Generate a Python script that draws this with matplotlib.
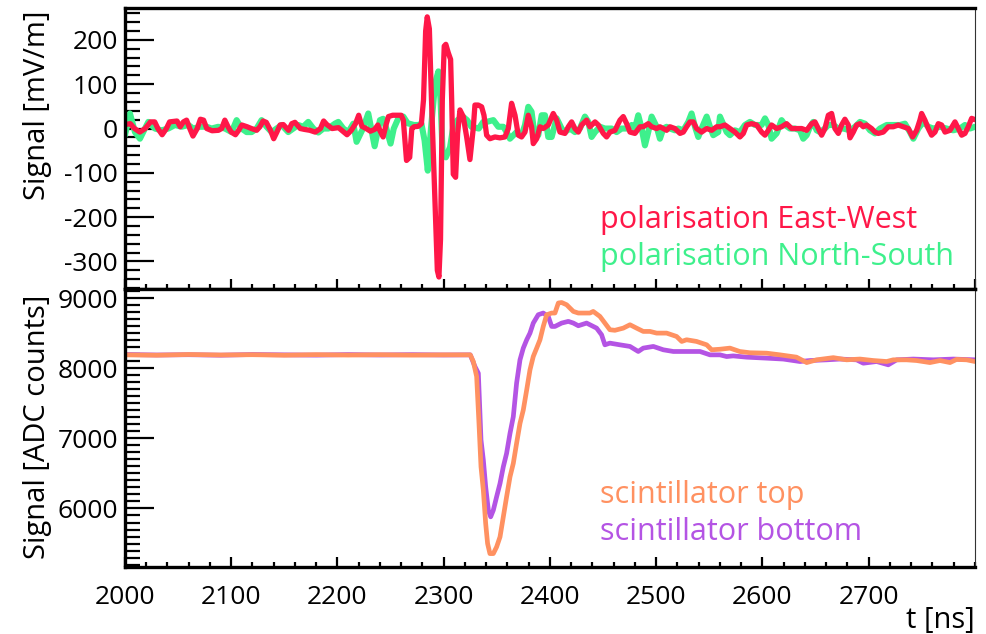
import matplotlib
matplotlib.use("Agg")
import matplotlib.pyplot as plt
from matplotlib.ticker import MultipleLocator

plt.rcParams['font.family'] = ['Open Sans', 'DejaVu Sans']
plt.rcParams['axes.unicode_minus'] = False

# radio antenna, polarisation East-West (t [ns], signal [mV/m])
ew_points = [
    (2000, 9), (2005, 11), (2009, 0), (2014, -8), (2019, 0), (2024, 15), (2028, 15),
    (2031, 0), (2035, -14), (2039, 0), (2042, 15), (2049, 17), (2052, 4), (2055, 15),
    (2058, 19), (2061, 0), (2064, -17), (2068, 0), (2071, 21), (2074, 19), (2077, 0),
    (2082, -5), (2088, -4), (2091, 0), (2094, 19), (2097, 4), (2100, -8), (2104, -14),
    (2107, -4), (2110, 8), (2115, 4), (2119, 0), (2124, -4), (2127, 4), (2130, 17),
    (2133, 14), (2137, -4), (2140, -23), (2143, -8), (2146, 8), (2149, 9), (2154, -4),
    (2157, 11), (2160, 14), (2165, 0), (2169, -2), (2174, -4), (2179, -8), (2184, 0),
    (2187, 17), (2190, 9), (2195, 0), (2201, 2), (2206, -8), (2209, -14), (2213, -4),
    (2217, 11), (2220, 30), (2223, 5), (2227, 0), (2231, -6), (2235, -2), (2238, 8),
    (2240, -5), (2243, -19), (2246, 11), (2248, 27), (2252, 30), (2260, 30), (2262, 19),
    (2265, -72), (2268, -65), (2270, 0), (2272, 4), (2276, 5), (2279, 11), (2281, 65),
    (2283, 220), (2284.5, 252), (2286.5, 225), (2288.5, 65), (2291.8, -164),
    (2294, -320), (2295.5, -335), (2297, -250), (2298.7, 65), (2300.5, 186),
    (2302, 190), (2304.3, 171), (2306.5, 156), (2307.5, 65), (2309, -103),
    (2311.2, -110), (2313.1, -11), (2315.3, 42), (2318.4, 27), (2321.6, -19),
    (2324.7, -70), (2327.8, 0), (2329.4, 53), (2332.5, 53), (2335.7, 49), (2337.9, 30),
    (2340.4, -15), (2343.5, -23), (2348.2, -19), (2352.9, -21), (2357.6, -19),
    (2360.8, 0), (2363.9, 57), (2367.1, 30), (2370.2, -15), (2373.3, -19),
    (2376.5, -8), (2379.6, 30), (2382.7, 4), (2384.3, -34), (2387.5, -23),
    (2390.6, 4), (2393.7, 0), (2398.4, 8), (2403.1, 34), (2406.3, 19), (2409.4, -8),
    (2414.1, -11), (2417.3, 4), (2420.4, 15), (2423.5, 0), (2426.7, -8), (2429.8, 8),
    (2434.5, 19), (2437.6, 4), (2442.4, 15), (2445.5, 8), (2450.2, -11),
    (2453.3, -19), (2456.5, -8), (2461.2, -4), (2465.9, 19), (2469.0, 27),
    (2472.2, 11), (2475.3, -8), (2480.0, -11), (2484.7, 4), (2487.8, 4), (2492.5, 11),
    (2495.7, 4), (2500.4, 0), (2503.5, 4), (2506.7, 0), (2509.8, -4), (2513.0, 4),
    (2517.6, 0), (2522.4, -11), (2525.5, -8), (2528.6, 4), (2531.8, 15), (2534.9, 15),
    (2538.0, 0), (2542.7, -8), (2547.5, 0), (2552.2, -4), (2556.9, 4), (2560.0, 4),
    (2564.7, 8), (2569.4, 0), (2574.1, -8), (2578.8, -19), (2582.0, -11),
    (2585.1, 8), (2589.8, 11), (2594.5, 8), (2599.2, -8), (2602.4, -15),
    (2605.5, -4), (2608.6, 8), (2613.3, 0), (2618.0, 4), (2622.7, 11), (2627.5, 0),
    (2632.2, 0), (2636.9, 0), (2641.6, -4), (2646.3, 11), (2649.4, 15), (2652.5, 0),
    (2655.7, -15), (2658.8, 0), (2662.0, 30), (2665.1, 34), (2668.2, 0),
    (2671.4, -11), (2674.5, 8), (2677.6, 21), (2680.8, 8), (2682.4, -21),
    (2685.5, -8), (2688.6, 8), (2691.8, 11), (2694.9, 4), (2698.0, 8), (2702.7, 0),
    (2705.9, -8), (2709.0, -11), (2713.7, -8), (2718.4, 4), (2723.1, 4), (2727.8, 8),
    (2732.5, 4), (2737.3, 0), (2741.3, -19), (2745.1, -4), (2748.2, 19),
    (2749.8, 34), (2752.9, 19), (2756.1, 0), (2759.2, -15), (2762.4, -8),
    (2765.5, 11), (2768.6, 8), (2771.8, -8), (2776.5, -4), (2781.2, 15),
    (2784.3, 0), (2787.5, -15), (2790.6, -11), (2793.7, 4), (2796.9, 23), (2800, 20),
]

# radio antenna, polarisation North-South
ns_points = [
    (2000, -15), (2004.7, 34), (2009.4, -8), (2014.1, -23), (2018.8, 0), (2022.0, 15),
    (2028.2, 0), (2034.5, -4), (2040.8, 0), (2047.1, 8), (2053.3, 4), (2059.6, 8),
    (2064.3, 0), (2070.6, 4), (2076.9, 4), (2081.6, 0), (2087.8, 4), (2094.1, 0),
    (2100.4, -8), (2105.1, 19), (2109.8, 0), (2114.5, -8), (2119.2, -8), (2123.9, 0),
    (2128.6, 19), (2133.3, 4), (2138.0, -8), (2142.7, 0), (2147.5, 8), (2153.7, -8),
    (2158.4, 0), (2163.1, 8), (2167.8, 4), (2172.5, 15), (2177.3, 0), (2182.0, -9),
    (2186.7, 0), (2191.4, 0), (2197.6, 11), (2200.8, 15), (2205.5, 0), (2210.2, -8),
    (2214.9, 11), (2218, -30), (2224, 0), (2229, 34), (2235, -40), (2240, 19),
    (2243, 22), (2246, 0), (2250, -34), (2253, 0), (2258, 27), (2262, 27), (2266, 12),
    (2272, 8), (2276, 8), (2279, 11), (2282, -27), (2285, -95), (2288, 0), (2292, 103),
    (2295, 129), (2297, 65), (2299, -57), (2302, -65), (2306, -42), (2309, 4),
    (2313, 19), (2318, 27), (2322, 19), (2326, 4), (2333, 0), (2337.2, 15),
    (2340.4, 15), (2346.7, 19), (2351.4, 4), (2356.1, 4), (2359.2, -8), (2362.3, -23),
    (2368.6, -8), (2373.3, -15), (2376.5, 8), (2379.6, 49), (2382.7, 38),
    (2385.9, -23), (2389.0, -15), (2392.2, 30), (2395.3, 30), (2398.4, -19),
    (2401.6, -19), (2406.3, 23), (2411.0, 0), (2414.1, -8), (2418.8, 0), (2423.5, -8),
    (2428.2, 0), (2432.9, 27), (2436.1, 15), (2439.2, -19), (2442.4, -8), (2447.1, 4),
    (2451.8, 0), (2458.0, 0), (2462.7, -8), (2467.5, 0), (2472.2, 0), (2476.9, 8),
    (2480.0, 0), (2483.1, 30), (2486.3, 0), (2489.4, -38), (2492.5, -8), (2495.7, 27),
    (2500.4, 4), (2503.5, -23), (2506.7, 0), (2509.8, 4), (2513.0, 0), (2517.6, -4),
    (2520.8, 0), (2525.5, -4), (2530.2, 15), (2533.3, 34), (2536.5, 4), (2539.6, -19),
    (2542.7, 0), (2547.5, 27), (2550.6, 4), (2553.7, -15), (2558.4, -8), (2560, 27),
    (2566.3, -8), (2569.4, -15), (2574.1, -4), (2578.8, -8), (2583.5, 8), (2588.2, 15),
    (2592.9, 8), (2599.2, 8), (2602.4, 23), (2605.5, 8), (2608.6, -23), (2613.3, -11),
    (2618.0, 19), (2621.2, 8), (2625.9, 0), (2630.6, 0), (2635.3, -4), (2638.4, -23),
    (2641.6, -15), (2644.7, 4), (2647.8, 15), (2651.0, -4), (2654.1, -8), (2658.8, 0),
    (2662.0, 8), (2666.7, 8), (2671.4, 0), (2676.1, 0), (2682.4, -4), (2687.1, 4),
    (2691.8, 15), (2696.5, 11), (2701.2, -4), (2705.9, -11), (2710.6, 0),
    (2716.9, 8), (2723.1, 8), (2729.4, 8), (2734.1, 11), (2738.8, -8), (2742.0, -23),
    (2746.7, 0), (2751.4, 15), (2756.1, 4), (2760.8, 0), (2767.1, 4), (2773.3, 0),
    (2779.6, -4), (2785.9, 0), (2790.6, 8), (2795.3, 0), (2800, 4),
]

# scintillator top (t [ns], ADC counts)
sc_top_points = [
    (2000, 8190), (2030, 8185), (2060, 8195), (2090, 8188), (2120, 8192),
    (2150, 8185), (2180, 8193), (2210, 8187), (2240, 8192), (2270, 8186),
    (2300, 8190), (2325, 8190), (2327.9, 8094), (2331.0, 7881), (2333.2, 7214),
    (2335.1, 6595), (2337.3, 6261), (2339.5, 5786), (2341.3, 5500), (2343.5, 5357),
    (2346.7, 5357), (2349.8, 5452), (2353.0, 5595), (2356.1, 5881), (2359.2, 6167),
    (2362.4, 6452), (2365.5, 6643), (2368.6, 6929), (2371.8, 7214), (2374.9, 7404),
    (2378.1, 7690), (2381.2, 7976), (2384.3, 8167), (2387.5, 8286), (2390.6, 8404),
    (2393.7, 8595), (2396.9, 8761), (2401.6, 8786), (2404.7, 8786), (2407.9, 8929),
    (2411.0, 8936), (2415.7, 8904), (2418.8, 8857), (2422.0, 8809), (2426.7, 8786),
    (2431.4, 8786), (2437.6, 8786), (2440.7, 8809), (2447.0, 8738), (2451.7, 8643),
    (2456.4, 8548), (2461.1, 8540), (2469.0, 8571), (2475.3, 8619), (2481.5, 8571),
    (2487.8, 8524), (2494.1, 8524), (2500.4, 8500), (2509.8, 8500), (2519.2, 8452),
    (2524.0, 8381), (2528.6, 8405), (2538.0, 8381), (2547.5, 8333), (2552.2, 8262),
    (2560.0, 8270), (2569.4, 8286), (2578.6, 8238), (2588.1, 8220), (2603.9, 8214),
    (2616.5, 8190), (2632.0, 8157), (2641.6, 8080), (2651.0, 8119), (2666.7, 8150),
    (2679.2, 8119), (2691.8, 8130), (2704.3, 8109), (2716.9, 8095), (2723.1, 8119),
    (2735.7, 8119), (2745.1, 8109), (2757.6, 8080), (2767.1, 8109), (2776.5, 8080),
    (2782.7, 8125), (2792.2, 8119), (2800, 8095),
]

# scintillator bottom
sc_bottom_points = [
    (2000, 8195), (2030, 8188), (2060, 8192), (2090, 8185), (2120, 8195),
    (2150, 8190), (2180, 8186), (2210, 8194), (2240, 8188), (2270, 8193),
    (2300, 8188), (2325, 8190), (2329.4, 8023), (2332.6, 7928), (2335.1, 6976),
    (2337.3, 6690), (2339.5, 6309), (2342.0, 5976), (2344.2, 5881), (2346.7, 5976),
    (2349.8, 6167), (2353.0, 6357), (2356.1, 6595), (2359.2, 6786), (2362.4, 7071),
    (2365.5, 7309), (2368.6, 7786), (2371.8, 8119), (2374.9, 8286), (2378.1, 8404),
    (2381.2, 8500), (2384.3, 8643), (2389.0, 8762), (2393.7, 8786), (2398.4, 8738),
    (2401.6, 8595), (2404.7, 8595), (2411.0, 8643), (2417.3, 8667), (2422.0, 8643),
    (2426.7, 8605), (2434.5, 8643), (2443.9, 8571), (2448.6, 8476), (2451.7, 8333),
    (2456.4, 8357), (2465.8, 8333), (2475.3, 8310), (2483.1, 8238), (2487.8, 8286),
    (2497.3, 8310), (2506.7, 8262), (2516.1, 8238), (2528.6, 8238), (2541.2, 8238),
    (2550.6, 8190), (2560.0, 8190), (2566.3, 8166), (2572.5, 8175), (2585.1, 8157),
    (2603.9, 8143), (2619.6, 8130), (2635.3, 8095), (2644.7, 8109), (2660.4, 8119),
    (2673.0, 8130), (2688.6, 8119), (2694.9, 8071), (2707.5, 8095), (2718.4, 8048),
    (2726.3, 8119), (2741.9, 8130), (2760.8, 8119), (2779.6, 8130), (2800, 8119),
]

labels_radio = ["polarisation East-West", "polarisation North-South"]
labels_scint = ["scintillator top", "scintillator bottom"]

RED = "#ff1748"
GREEN = "#3ef08c"
ORANGE = "#ff9161"
PURPLE = "#b454e4"

fig = plt.figure(figsize=(9.87, 6.34), dpi=100)
ax1 = fig.add_axes([0.1266, 0.5442, 0.8612, 0.4432])
ax2 = fig.add_axes([0.1266, 0.1057, 0.8612, 0.4385])

ew_t, ew_v = zip(*ew_points)
ns_t, ns_v = zip(*ns_points)
top_t, top_v = zip(*sc_top_points)
bot_t, bot_v = zip(*sc_bottom_points)

style = dict(solid_joinstyle='round', solid_capstyle='round')
ax1.plot(ns_t, ns_v, color=GREEN, lw=4.4, **style)
ax1.plot(ew_t, ew_v, color=RED, lw=3.8, **style)
ax2.plot(bot_t, bot_v, color=PURPLE, lw=3.4, **style)
ax2.plot(top_t, top_v, color=ORANGE, lw=3.4, **style)

ax1.set_xlim(2000, 2800)
ax2.set_xlim(2000, 2800)
ax1.set_ylim(-362, 272)
ax2.set_ylim(5166, 9129)

for ax in (ax1, ax2):
    ax.xaxis.set_major_locator(MultipleLocator(100))
    ax.xaxis.set_minor_locator(MultipleLocator(20))
    ax.tick_params(axis='x', which='major', direction='in', length=7, width=1.6,
                   top=False, labelsize=19, pad=13)
    ax.tick_params(axis='x', which='minor', direction='in', length=3.5, width=1.6, top=False)
    ax.tick_params(axis='y', which='major', direction='in', length=21, width=1.6,
                   right=False, labelsize=19, pad=5)
    ax.tick_params(axis='y', which='minor', direction='in', length=10.5, width=1.6, right=False)
    for side in ('left', 'bottom', 'top'):
        ax.spines[side].set_linewidth(2.4)
    ax.spines['right'].set_linewidth(0.8)
    ax.spines['right'].set_color('#333333')

ax1.yaxis.set_major_locator(MultipleLocator(100))
ax1.yaxis.set_minor_locator(MultipleLocator(20))
ax1.tick_params(axis='x', labelbottom=False)
ax2.yaxis.set_major_locator(MultipleLocator(1000))
ax2.yaxis.set_minor_locator(MultipleLocator(100))
ax2.set_xticks([2000, 2100, 2200, 2300, 2400, 2500, 2600, 2700])
for lab in ax2.get_xticklabels() + ax2.get_yticklabels() + ax1.get_yticklabels():
    lab.set_fontweight('medium')

ax1.text(0.559, 0.247, labels_radio[0], transform=ax1.transAxes, color=RED,
         fontsize=22, va='center', ha='left')
ax1.text(0.559, 0.115, labels_radio[1], transform=ax1.transAxes, color=GREEN,
         fontsize=22, va='center', ha='left')
ax2.text(0.559, 0.26, labels_scint[0], transform=ax2.transAxes, color=ORANGE,
         fontsize=22, va='center', ha='left')
ax2.text(0.559, 0.125, labels_scint[1], transform=ax2.transAxes, color=PURPLE,
         fontsize=22, va='center', ha='left')

fig.text(0.038, 0.984, "Signal [mV/m]", rotation=90, ha='center', va='top',
         fontsize=21, fontweight='medium')
fig.text(0.038, 0.535, "Signal [ADC counts]", rotation=90, ha='center', va='top',
         fontsize=21, fontweight='medium')
fig.text(0.988, 0.022, "t [ns]", ha='right', va='center', fontsize=21, fontweight='medium')

fig.savefig("out.png", dpi=100)
